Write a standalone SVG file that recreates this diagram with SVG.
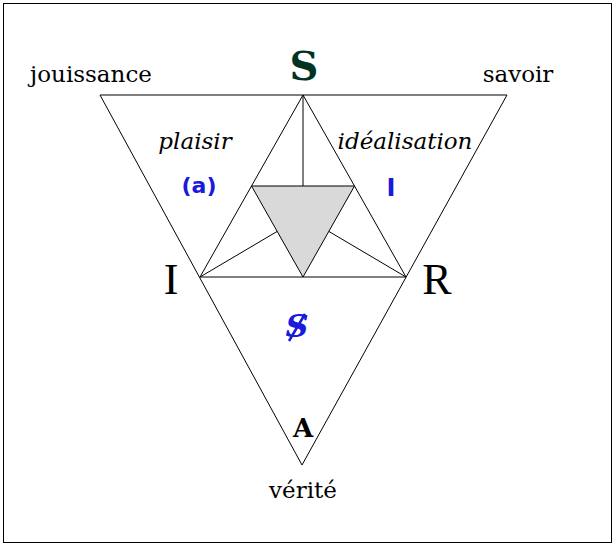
<svg xmlns="http://www.w3.org/2000/svg" width="616" height="548" viewBox="0 0 616 548">
<style>
.l{stroke:#000;stroke-width:1;fill:none}
text{font-family:"DejaVu Serif","Liberation Serif",serif}
.b{fill:#1a1adc}
.s{font-family:"DejaVu Sans",sans-serif}
</style>
<rect x="0" y="0" width="616" height="548" fill="#fff"/>
<rect x="3.5" y="3.5" width="608" height="539" fill="none" stroke="#000"/>
<g id="grey"><polygon points="251.5,186 354.5,186 303,277" fill="#d9d9d9" stroke="#000"/></g>
<g id="connectors">
<polygon class="l" points="100,95 507,95 302,465"/>
<polygon class="l" points="303,95 200,277 406,277"/>
<line class="l" x1="303" y1="95" x2="303" y2="186"/>
<line class="l" x1="200" y1="277" x2="277" y2="231.5"/>
<line class="l" x1="406" y1="277" x2="329" y2="231.5"/>
</g>
<g id="S"><text x="304" y="80" font-size="40" font-weight="bold" text-anchor="middle" fill="#003322">S</text></g>
<g id="I"><text x="171" y="294" font-size="44" text-anchor="middle" style="font-family:'Liberation Serif',serif">I</text></g>
<g id="R"><text x="437" y="294" font-size="44" text-anchor="middle" style="font-family:'Liberation Serif',serif">R</text></g>
<g id="A"><text x="303" y="437" font-size="26" font-weight="bold" text-anchor="middle">A</text></g>
<g id="labels">
<text x="91" y="82" font-size="23" text-anchor="middle">jouissance</text>
<text x="518" y="82" font-size="23" text-anchor="middle">savoir</text>
<text x="303" y="498" font-size="23" text-anchor="middle">vérité</text>
<text x="195" y="149" font-size="23" font-style="italic" text-anchor="middle">plaisir</text>
<text x="405" y="149" font-size="23" font-style="italic" text-anchor="middle">idéalisation</text>
<text x="199" y="193" font-size="22" font-weight="bold" text-anchor="middle" class="b s">(a)</text>
<text x="391" y="196" font-size="24" font-weight="bold" text-anchor="middle" class="b s">I</text>
<g id="barredS"><text x="297" y="337" font-size="32" font-weight="bold" font-style="italic" text-anchor="middle" class="b">S</text>
<line x1="289" y1="341" x2="305" y2="314" stroke="#1a1adc" stroke-width="2.5"/></g>
</g>
</svg>
